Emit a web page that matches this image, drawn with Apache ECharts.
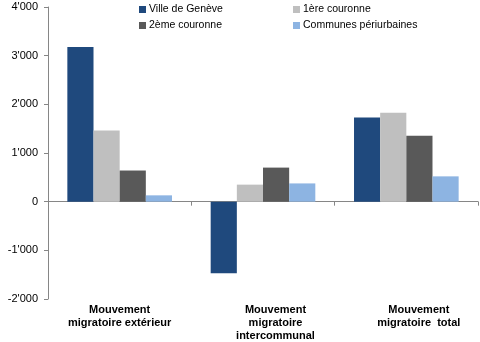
<!DOCTYPE html>
<html>
<head>
<meta charset="utf-8">
<script src="https://cdn.jsdelivr.net/npm/echarts@6/dist/echarts.min.js"></script>
<style>
html,body{margin:0;padding:0;background:#fff;}
#c{width:480px;height:342px;}
</style>
</head>
<body>
<div id="c"></div>
<script>
var categories = ["Mouvement\nmigratoire extérieur", "Mouvement\nmigratoire\nintercommunal", "Mouvement\nmigratoire  total"];
var seriesNames = ["Ville de Genève", "1ère couronne", "2ème couronne", "Communes périurbaines"];
var villeGeneve = [3180, -1470, 1730];
var premiereCouronne = [1460, 350, 1825];
var deuxiemeCouronne = [640, 700, 1355];
var communesPeriurbaines = [130, 375, 520];
var yTicks = [-2000, -1000, 0, 1000, 2000, 3000, 4000];

var colors = ["#1F497D", "#BFBFBF", "#595959", "#8DB4E2"];
var values = [villeGeneve, premiereCouronne, deuxiemeCouronne, communesPeriurbaines];
var FONT = "Liberation Sans";

function fmt(v) {
  var s = Math.abs(v).toString();
  if (s.length > 3) s = s.slice(0, s.length - 3) + "'" + s.slice(s.length - 3);
  return (v < 0 ? "-" : "") + s;
}

var chart = echarts.init(document.getElementById('c'));
var option = {
  animation: false,
  textStyle: { fontFamily: FONT },
  legend: [
    {
      data: [seriesNames[0], seriesNames[2]],
      orient: 'vertical', left: 134, top: -1,
      itemWidth: 7, itemHeight: 7, itemGap: 5, icon: 'rect',
      textStyle: { fontFamily: FONT, fontSize: 10.5, color: '#000', padding: [0,0,0,-2] }
    },
    {
      data: [seriesNames[1], seriesNames[3]],
      orient: 'vertical', left: 288, top: -1,
      itemWidth: 7, itemHeight: 7, itemGap: 5, icon: 'rect',
      textStyle: { fontFamily: FONT, fontSize: 10.5, color: '#000', padding: [0,0,0,-2] }
    }
  ],
  grid: { left: 48, right: 2, top: 7, bottom: 43, containLabel: false },
  xAxis: [
    {
      type: 'category', data: categories,
      axisLine: { onZero: true, lineStyle: { color: '#868686', width: 1 } },
      axisTick: { show: true, length: 4, alignWithLabel: false, lineStyle: { color: '#868686' } },
      axisLabel: { show: false }
    },
    {
      type: 'category', position: 'bottom',
      data: categories.map(function (c, i) {
        return { value: c, textStyle: { padding: [0, 0, 0, i === 0 ? 0 : 25] } };
      }),
      axisLine: { show: false, onZero: false },
      axisTick: { show: false },
      axisLabel: {
        margin: 4, fontFamily: FONT, fontSize: 11, fontWeight: 'bold', color: '#000',
        lineHeight: 13, interval: 0
      }
    }
  ],
  yAxis: {
    type: 'value', min: yTicks[0], max: yTicks[yTicks.length - 1], interval: 1000,
    axisLine: { show: true, lineStyle: { color: '#868686' } },
    axisTick: { show: true, length: 4, lineStyle: { color: '#868686' } },
    splitLine: { show: false },
    axisLabel: { margin: 10, fontFamily: FONT, fontSize: 11, color: '#000', formatter: fmt }
  },
  series: seriesNames.map(function (n, i) {
    return {
      name: n, type: 'bar', xAxisIndex: 0, data: values[i],
      itemStyle: { color: colors[i] },
      barGap: '0%', barCategoryGap: '27%'
    };
  })
};
chart.setOption(option);
</script>
</body>
</html>
